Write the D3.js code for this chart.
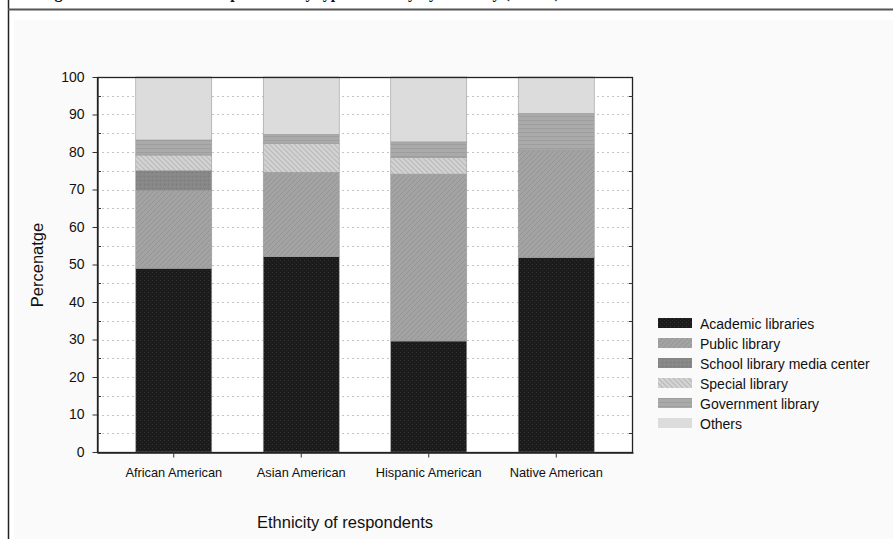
<!DOCTYPE html>
<html><head><meta charset="utf-8">
<script src="https://cdn.jsdelivr.net/npm/d3@7"></script>
<style>html,body{margin:0;padding:0;background:#fff;}svg{display:block;}</style>
</head><body>
<script>
const categories = ["African American", "Asian American", "Hispanic American", "Native American"];
const seriesNames = ["Academic libraries", "Public library", "School library media center", "Special library", "Government library", "Others"];
const academic   = [49.0, 52.1, 29.6, 51.9];
const publicLib  = [20.7, 22.5, 44.5, 28.6];
const school     = [5.3, 0, 0, 0];
const special    = [4.2, 7.7, 4.5, 0];
const government = [4.0, 2.4, 4.1, 9.8];
const others     = [16.8, 15.3, 17.3, 9.7];
const yTicks = [0, 10, 20, 30, 40, 50, 60, 70, 80, 90, 100];
const titleText = "Figure 2. Distribution of respondents by type of library by ethnicity (N=120)";

const W = 893, H = 539;
const svg = d3.select("body").append("svg").attr("width", W).attr("height", H);
const defs = svg.append("defs");

function pat(id, base, drawFn, size) {
  const p = defs.append("pattern").attr("id", id).attr("patternUnits", "userSpaceOnUse")
    .attr("width", size).attr("height", size);
  p.append("rect").attr("width", size).attr("height", size).attr("fill", base);
  drawFn(p);
}
pat("pAcad", "#1b1b1b", p => {
  p.append("rect").attr("x", 0).attr("y", 0).attr("width", 1).attr("height", 1).attr("fill", "#333");
  p.append("rect").attr("x", 2).attr("y", 2).attr("width", 1).attr("height", 1).attr("fill", "#2a2a2a");
}, 4);
pat("pPub", "#a3a3a3", p => {
  p.append("path").attr("d", "M0,5 L5,0 M-1,1 L1,-1 M4,6 L6,4").attr("stroke", "#959595").attr("stroke-width", 1);
}, 5);
pat("pSchool", "#878787", p => {
  p.append("rect").attr("x", 0).attr("y", 0).attr("width", 1).attr("height", 1).attr("fill", "#7a7a7a");
  p.append("rect").attr("x", 2).attr("y", 2).attr("width", 1).attr("height", 1).attr("fill", "#939393");
}, 4);
pat("pSpec", "#d3d3d3", p => {
  p.append("path").attr("d", "M0,0 L5,5 M4,-1 L6,1 M-1,4 L1,6").attr("stroke", "#b9b9b9").attr("stroke-width", 1.2);
}, 5);
pat("pGov", "#aaaaaa", p => {
  p.append("line").attr("x1", 0).attr("x2", 4).attr("y1", 0.5).attr("y2", 0.5).attr("stroke", "#9e9e9e").attr("stroke-width", 1);
}, 4);
const fills = ["url(#pAcad)", "url(#pPub)", "url(#pSchool)", "url(#pSpec)", "url(#pGov)", "#dcdcdc"];

// outer frame
svg.append("rect").attr("x", 14).attr("y", 20).attr("width", W - 14).attr("height", H - 20).attr("fill", "#fafafa");
svg.append("line").attr("x1", 8.5).attr("x2", 8.5).attr("y1", 0).attr("y2", H).attr("stroke", "#222").attr("stroke-width", 1.5);
svg.append("line").attr("x1", 8).attr("x2", W).attr("y1", 9.5).attr("y2", 9.5).attr("stroke", "#555").attr("stroke-width", 2);
svg.append("text").attr("x", 300).attr("y", -2).attr("text-anchor", "middle")
  .attr("font-family", "Liberation Serif, Times New Roman, serif").attr("font-weight", "bold").attr("font-size", 16)
  .attr("fill", "#111").text(titleText);

const L = 97, R = 633, T = 77, B = 452;
const x = d3.scaleBand().domain(categories).range([L, R]).paddingInner(0.404).paddingOuter(0.304);
const y = d3.scaleLinear().domain([0, 100]).range([B, T]);

svg.append("rect").attr("x", L).attr("y", T).attr("width", R - L).attr("height", B - T).attr("fill", "#fff");

// gridlines every 5
const gridVals = d3.range(5, 100, 5);
svg.append("g").selectAll("line").data(gridVals).join("line")
  .attr("x1", L).attr("x2", R).attr("y1", d => Math.round(y(d)) + 0.5).attr("y2", d => Math.round(y(d)) + 0.5)
  .attr("stroke", "#c4c4c4").attr("stroke-width", 1).attr("stroke-dasharray", "2,3");

// stacked bars
const rows = categories.map((c, i) => ({
  cat: c, s0: academic[i], s1: publicLib[i], s2: school[i], s3: special[i], s4: government[i], s5: others[i]
}));
const stack = d3.stack().keys(["s0", "s1", "s2", "s3", "s4", "s5"]);
const layers = stack(rows);
svg.append("g").selectAll("g").data(layers).join("g")
  .attr("fill", (d, i) => fills[i])
  .selectAll("rect").data(d => d.filter(v => v[1] - v[0] > 0)).join("rect")
  .attr("x", d => x(d.data.cat)).attr("width", x.bandwidth())
  .attr("y", d => y(d[1])).attr("height", d => y(d[0]) - y(d[1]))
  .attr("stroke", "#9a9a9a").attr("stroke-width", 0.6);

// frame of plot
svg.append("rect").attr("x", L + 0.5).attr("y", T + 0.5).attr("width", R - L - 1).attr("height", B - T)
  .attr("fill", "none").attr("stroke", "#222").attr("stroke-width", 1.3);

// left axis
const yAxis = d3.axisLeft(y).tickValues(yTicks).tickSize(5).tickSizeOuter(0).tickPadding(8);
const ga = svg.append("g").attr("transform", `translate(${L + 0.5},0)`).call(yAxis);
ga.select(".domain").attr("stroke", "#222").attr("stroke-width", 1.3);
ga.selectAll(".tick line").attr("stroke", "#333");
ga.selectAll("text").attr("font-family", "Liberation Sans, Arial, sans-serif").attr("font-size", 14).attr("fill", "#111");
// minor ticks inside left and right
const minor = d3.range(5, 100, 10);
svg.append("g").selectAll("line").data(minor).join("line")
  .attr("x1", L).attr("x2", L + 4).attr("y1", d => Math.round(y(d)) + 0.5).attr("y2", d => Math.round(y(d)) + 0.5)
  .attr("stroke", "#333");
svg.append("g").selectAll("line").data(minor).join("line")
  .attr("x1", R - 4).attr("x2", R).attr("y1", d => Math.round(y(d)) + 0.5).attr("y2", d => Math.round(y(d)) + 0.5)
  .attr("stroke", "#333");

// bottom axis
const xAxis = d3.axisBottom(x).tickSize(5).tickSizeOuter(0).tickPadding(10);
const gb = svg.append("g").attr("transform", `translate(0,${B + 0.5})`).call(xAxis);
gb.select(".domain").attr("stroke", "#222").attr("stroke-width", 1.3);
gb.selectAll(".tick line").attr("stroke", "#333");
gb.selectAll("text").attr("font-family", "Liberation Sans, Arial, sans-serif").attr("font-size", 12.8).attr("fill", "#111");

// axis titles
svg.append("text").attr("transform", "translate(43,265) rotate(-90)").attr("text-anchor", "middle")
  .attr("font-family", "Liberation Sans, Arial, sans-serif").attr("font-size", 16.5).attr("fill", "#111").text("Percenatge");
svg.append("text").attr("x", 345).attr("y", 528).attr("text-anchor", "middle")
  .attr("font-family", "Liberation Sans, Arial, sans-serif").attr("font-size", 16.5).attr("fill", "#111").text("Ethnicity of respondents");

// legend
const lg = svg.append("g").attr("transform", "translate(658,318)");
const li = lg.selectAll("g").data(seriesNames).join("g").attr("transform", (d, i) => `translate(0,${i * 20})`);
li.append("rect").attr("width", 34).attr("height", 10).attr("fill", (d, i) => fills[i]);
li.append("text").attr("x", 42).attr("y", 10.5).attr("font-family", "Liberation Sans, Arial, sans-serif")
  .attr("font-size", 14).attr("fill", "#111").text(d => d);
</script>
</body></html>
